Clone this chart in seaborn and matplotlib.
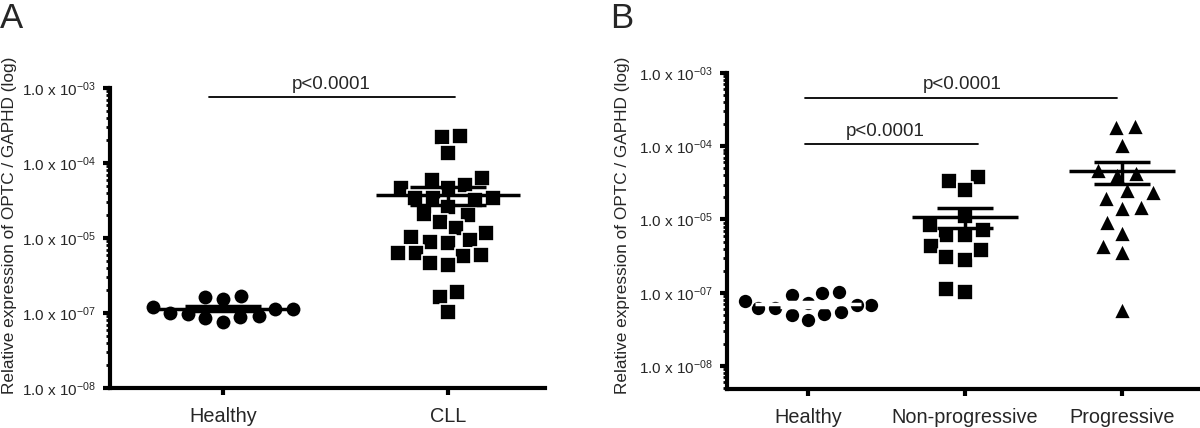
import numpy as np
import pandas as pd
import matplotlib
matplotlib.use("Agg")
import matplotlib.pyplot as plt
import matplotlib.ticker as mticker
import seaborn as sns

# ---------------- data (in axis units) ----------------
a_groups = ["Healthy", "CLL"]
a_healthy = [1.21e-6, 1.12e-6, 0.99e-6, 1.65e-6, 1.52e-6, 1.69e-6,
             0.88e-6, 0.77e-6, 0.85e-6, 0.91e-6, 0.97e-6, 1.12e-6]
a_cll = [2.2e-4, 2.3e-4, 1.35e-4, 5.1e-5, 4.6e-5, 5.9e-5, 6.3e-5, 4.7e-5,
         3.4e-5, 3.4e-5, 3.2e-5, 3.4e-5, 2.6e-5, 2.1e-5, 2.0e-5, 1.65e-5,
         1.35e-5, 1.15e-5, 1.04e-5, 8.9e-6, 8.5e-6, 9.4e-6, 6.3e-6, 5.9e-6,
         6.3e-6, 5.8e-6, 4.4e-6, 4.7e-6, 1.9e-6, 1.65e-6, 1.04e-6]

b_groups = ["Healthy", "Non-progressive", "Progressive"]
b_healthy = [7.3e-7, 6.8e-7, 1.0e-6, 9.3e-7, 1.03e-6, 6.1e-7, 5.2e-7,
             4.2e-7, 5.0e-7, 5.5e-7, 6.1e-7, 6.8e-7, 7.6e-7]
b_nonprog = [3.8e-5, 3.4e-5, 2.5e-5, 1.12e-5, 7.2e-6, 6.1e-6, 6.1e-6,
             8.4e-6, 4.3e-6, 3.1e-6, 2.8e-6, 3.8e-6, 1.03e-6, 1.11e-6]
b_prog = [1.81e-4, 1.89e-4, 1.04e-4, 4.7e-5, 4.1e-5, 4.3e-5, 2.4e-5,
          1.95e-5, 2.5e-5, 1.5e-5, 1.42e-5, 9.3e-6, 6.5e-6, 4.3e-6,
          3.6e-6, 5.8e-7]

ytick_values = [1e-7, 1e-6, 1e-5, 1e-4, 1e-3]
ytick_labels = [r"1.0 x 10$^{-08}$", r"1.0 x 10$^{-07}$", r"1.0 x 10$^{-05}$",
                r"1.0 x 10$^{-04}$", r"1.0 x 10$^{-03}$"]
ylabel = "Relative expression of OPTC / GAPHD (log)"
p_text = "p<0.0001"

# ---------------- style ----------------
sns.set_style("white")
plt.rcParams["font.family"] = ["Liberation Sans", "DejaVu Sans"]
plt.rcParams["mathtext.fontset"] = "custom"
plt.rcParams["mathtext.rm"] = "Liberation Sans"
plt.rcParams["mathtext.it"] = "Liberation Sans:italic"
plt.rcParams["mathtext.bf"] = "Liberation Sans:bold"

fig = plt.figure(figsize=(12, 4.28), dpi=100)
W, H = 1200, 428


def add_axes(left, top, right, bottom):
    return fig.add_axes([left / W, (H - bottom) / H, (right - left) / W, (bottom - top) / H])


axA = add_axes(110, 88, 545, 388)
axB = add_axes(727, 73, 1198, 389)


def style_axis(ax, ylim, xlim):
    ax.set_yscale("log")
    ax.set_ylim(*ylim)
    ax.set_xlim(*xlim)
    for s in ["top", "right"]:
        ax.spines[s].set_visible(False)
    for s in ["left", "bottom"]:
        ax.spines[s].set_linewidth(3)
        ax.spines[s].set_color("black")
    ax.set_yticks(ytick_values)
    ax.set_yticklabels(ytick_labels)
    ax.yaxis.set_minor_locator(mticker.LogLocator(base=10, subs=np.arange(2, 10), numticks=20))
    ax.yaxis.set_minor_formatter(mticker.NullFormatter())
    ax.tick_params(axis="y", which="both", left=True, right=False)
    ax.tick_params(axis="x", which="both", bottom=True, top=False)
    ax.tick_params(axis="y", which="major", direction="out", length=5, width=3,
                   labelsize=11, pad=5, color="black")
    ax.tick_params(axis="y", which="minor", direction="out", length=3, width=2, color="black")
    ax.tick_params(axis="x", which="major", direction="out", length=5, width=3,
                   labelsize=14.3, pad=9, color="black")
    ax.set_xlabel("")
    ax.set_ylabel("")


def draw_group(ax, groups, arrays, markers, sizes, mean_hw, sem_hw, line_colors):
    df = pd.concat([pd.DataFrame({"group": g, "value": v}) for g, v in zip(groups, arrays)],
                   ignore_index=True)
    for g, m, s in zip(groups, markers, sizes):
        sub = df[df["group"] == g]
        sns.swarmplot(data=sub, x="group", y="value", order=groups, marker=m, size=s,
                      color="black", edgecolor="white", linewidth=1.2, ax=ax, zorder=3,
                      warn_thresh=1)
    for i, (v, c) in enumerate(zip(arrays, line_colors)):
        v = np.asarray(v)
        mean = v.mean()
        sem = v.std(ddof=1) / np.sqrt(len(v))
        ax.hlines(mean, i - mean_hw, i + mean_hw, color=c, lw=2.5, zorder=5)
        ax.hlines([mean - sem, mean + sem], i - sem_hw, i + sem_hw, color=c, lw=2.5, zorder=5)
        ax.vlines(i, mean - sem, mean + sem, color=c, lw=2.5, zorder=5)


# ---------------- panel A ----------------
style_axis(axA, (1e-7, 1e-3), (-0.502, 1.431))
draw_group(axA, a_groups, [a_healthy, a_cll], ["o", "s"], [11.2, 11.0],
           0.32, 0.17, ["black", "black"])
style_axis(axA, (1e-7, 1e-3), (-0.502, 1.431))
axA.set_xticks(range(len(a_groups)))
axA.set_xticklabels(a_groups)

axA.plot([-0.06, 1.03], [7.6e-4, 7.6e-4], color="black", lw=1.3, clip_on=False)
axA.text(0.48, 8.7e-4, p_text, ha="center", va="bottom", fontsize=13.5)

# ---------------- panel B ----------------
style_axis(axB, (4.85e-8, 1e-3), (-0.516, 2.484))
draw_group(axB, b_groups, [b_healthy, b_nonprog, b_prog], ["o", "s", "^"], [10.8, 11.8, 12.2],
           0.34, 0.18, ["white", "black", "black"])
style_axis(axB, (4.85e-8, 1e-3), (-0.516, 2.484))
axB.set_xticks(range(len(b_groups)))
axB.set_xticklabels(b_groups)

axB.plot([-0.02, 1.97], [4.56e-4, 4.56e-4], color="black", lw=1.3, clip_on=False)
axB.text(0.98, 5.3e-4, p_text, ha="center", va="bottom", fontsize=13.5)
axB.plot([-0.02, 1.08], [1.07e-4, 1.07e-4], color="black", lw=1.3, clip_on=False)
axB.text(0.49, 1.2e-4, p_text, ha="center", va="bottom", fontsize=13.5)

# ---------------- labels ----------------
fig.text(10 / W, (H - 394) / H, ylabel, rotation=90, ha="center", va="bottom", fontsize=12.4)
fig.text(623 / W, (H - 394) / H, ylabel, rotation=90, ha="center", va="bottom", fontsize=12.4)
fig.text(0 / W, (H - 2) / H, "A", ha="left", va="top", fontsize=25)
fig.text(610 / W, (H - 2) / H, "B", ha="left", va="top", fontsize=25)

fig.savefig("out.png", dpi=100)
